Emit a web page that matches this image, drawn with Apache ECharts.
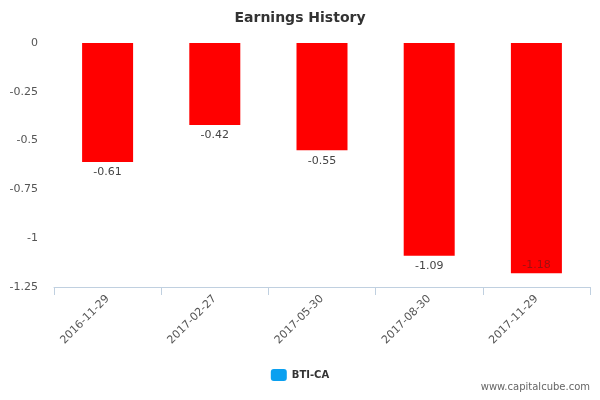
<!DOCTYPE html>
<html>
<head>
<meta charset="utf-8">
<script src="https://cdn.jsdelivr.net/npm/echarts@6/dist/echarts.min.js"></script>
<style>html,body{margin:0;padding:0;background:#fff}#chart{width:600px;height:400px}</style>
</head>
<body>
<div id="chart"></div>
<script>
var dates = ['2016-11-29', '2017-02-27', '2017-05-30', '2017-08-30', '2017-11-29'];
var earnings = [-0.61, -0.42, -0.55, -1.09, -1.18];

var chart = echarts.init(document.getElementById('chart'));
var barData = earnings.map(function (v, i) {
    var item = { value: v };
    if (i === earnings.length - 1) {
        item.label = { position: 'insideBottom', distance: 3, color: '#a01010' };
    }
    return item;
});
chart.setOption({
    animation: false,
    title: {
        text: 'Earnings History', left: 'center', top: 6,
        textStyle: { fontFamily: 'DejaVu Sans', fontSize: 14, fontWeight: 'bold', color: '#333' }
    },
    legend: {
        bottom: 14, left: 'center', itemWidth: 16, itemHeight: 12,
        textStyle: { fontFamily: 'DejaVu Sans', fontSize: 10, fontWeight: 'bold', color: '#333' },
        data: [{ name: 'BTI-CA', itemStyle: { color: '#0aa0f0' } }]
    },
    graphic: [{
        type: 'text', right: 10, bottom: 8,
        style: { text: 'www.capitalcube.com', fill: '#666', font: '10px DejaVu Sans' }
    }],
    grid: { left: 54, right: 10, top: 43, bottom: 113 },
    xAxis: {
        type: 'category', data: dates, position: 'bottom',
        axisLine: { onZero: false, lineStyle: { color: '#c0d0e0' } },
        axisTick: { show: true, length: 8, lineStyle: { color: '#c0d0e0' } },
        axisLabel: { rotate: 45, color: '#555', fontFamily: 'DejaVu Sans', fontSize: 11, margin: 10 }
    },
    yAxis: {
        type: 'value', min: -1.25, max: 0, interval: 0.25,
        splitLine: { show: false },
        axisLine: { show: false }, axisTick: { show: false },
        axisLabel: { color: '#555', fontFamily: 'DejaVu Sans', fontSize: 11, margin: 16 }
    },
    series: [{
        name: 'BTI-CA', type: 'bar', barWidth: 51, data: barData,
        itemStyle: { color: '#ff0000' },
        label: { show: true, position: 'bottom', distance: 5, color: '#444', fontFamily: 'DejaVu Sans', fontSize: 11 }
    }]
});
</script>
</body>
</html>
